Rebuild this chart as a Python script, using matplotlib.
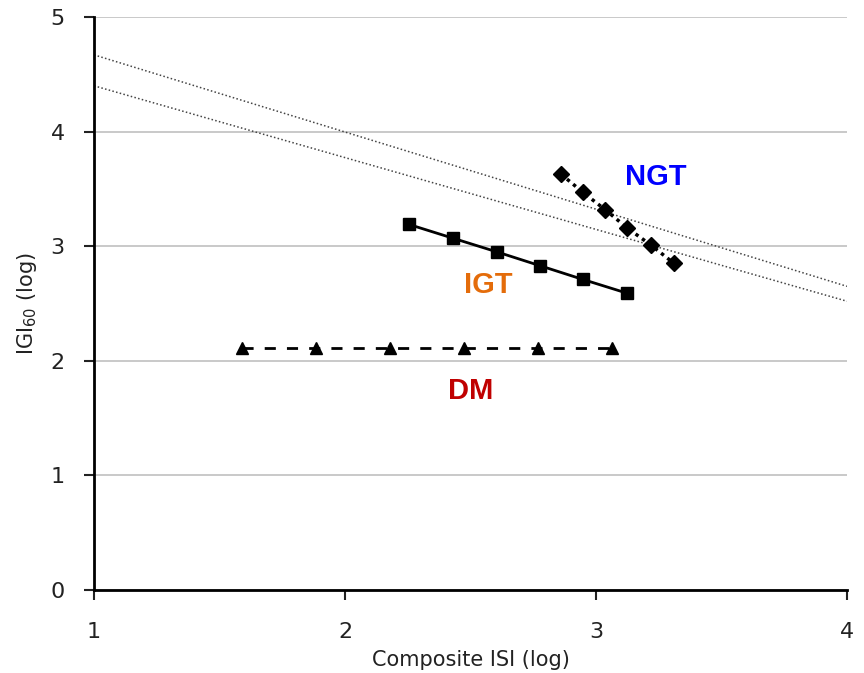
import matplotlib.pyplot as plt

# reference lines (endpoints at x=1 and x=4)
ref_x = [1, 4]
ref_upper = [4.67, 2.65]
ref_lower = [4.40, 2.52]

ngt_x = [2.86, 2.948, 3.036, 3.124, 3.219, 3.311]
ngt_y = [3.63, 3.47, 3.32, 3.16, 3.01, 2.85]

igt_x = [2.255, 2.43, 2.606, 2.777, 2.948, 3.124]
igt_y = [3.19, 3.07, 2.95, 2.83, 2.71, 2.59]

dm_x = [1.59, 1.884, 2.18, 2.474, 2.77, 3.064]
dm_y = [2.11, 2.11, 2.11, 2.11, 2.11, 2.11]

fig = plt.figure(figsize=(8.64, 6.73), dpi=100)
ax = fig.add_axes([0.1088, 0.1233, 0.8715, 0.8514])

ax.plot(ref_x, ref_upper, linestyle=(0, (1, 1.5)), color="#444444", linewidth=1.1)
ax.plot(ref_x, ref_lower, linestyle=(0, (1, 1.5)), color="#444444", linewidth=1.1)

ax.plot(ngt_x, ngt_y, linestyle=(0, (1, 1.3)), color="black", linewidth=2.5,
        marker="D", markersize=8)
ax.plot(igt_x, igt_y, linestyle="-", color="black", linewidth=2,
        marker="s", markersize=9)
ax.plot(dm_x, dm_y, linestyle=(0, (4, 4)), color="black", linewidth=2,
        marker="^", markersize=9)

ax.text(3.24, 3.6, "NGT", color="#0000FF", fontsize=21, fontweight="bold",
        ha="center", va="center", family="Liberation Sans")
ax.text(2.57, 2.66, "IGT", color="#E46C0A", fontsize=21, fontweight="bold",
        ha="center", va="center", family="Liberation Sans")
ax.text(2.5, 1.74, "DM", color="#C00000", fontsize=21, fontweight="bold",
        ha="center", va="center", family="Liberation Sans")

ax.set_xlim(1, 4)
ax.set_ylim(0, 5)
ax.set_xticks([1, 2, 3, 4])
ax.set_yticks([0, 1, 2, 3, 4, 5])
ax.yaxis.grid(True, color="#c0c0c0", linewidth=1.2)
ax.set_axisbelow(True)

for side in ["top", "right"]:
    ax.spines[side].set_visible(False)
for side in ["left", "bottom"]:
    ax.spines[side].set_linewidth(2)
    ax.spines[side].set_color("black")

ax.tick_params(axis="both", direction="out", length=7, width=1.5,
               labelsize=16, colors="#222222")
ax.tick_params(axis="x", pad=16)
ax.tick_params(axis="y", pad=14)

ax.set_xlabel("Composite ISI (log)", fontsize=15, color="#222222", labelpad=6)
ax.set_ylabel("IGI$_{60}$ (log)", fontsize=15, color="#222222", labelpad=8)

plt.savefig("out.png")
